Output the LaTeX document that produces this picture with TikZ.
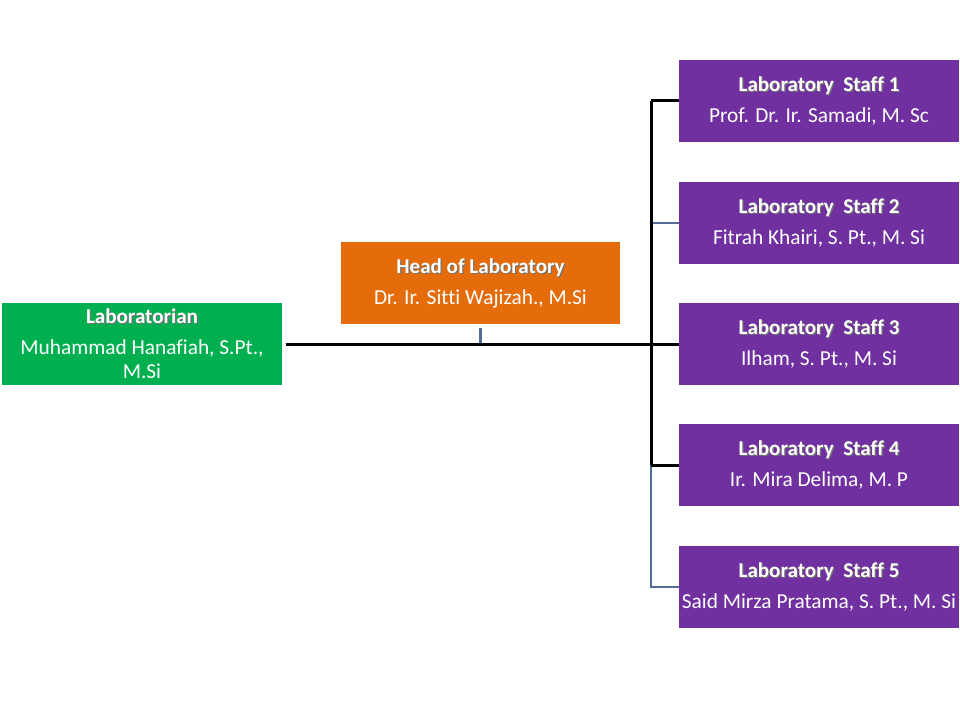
\documentclass[tikz,border=0pt]{standalone}
\usepackage{fontspec}
\setmainfont{Carlito}[Ligatures=NoCommon]
\definecolor{cgreen}{HTML}{00B050}
\definecolor{corange}{HTML}{E46C0A}
\definecolor{cpurple}{HTML}{7030A0}
\definecolor{cblue}{RGB}{79,109,150}
\newcommand\shtext[1]{\makebox[0pt][l]{\raisebox{-0.9pt}{\hspace{0.9pt}\textcolor{black!55}{#1}}}#1}
\newcommand\boxtext[2]{{\bfseries\fontsize{15.8}{18}\selectfont\shtext{#1}}\\[5.3pt]#2}
\begin{document}
\begin{tikzpicture}[x=0.75pt,y=-0.75pt,
  orgbox/.style={rectangle, draw=none, minimum width=210pt, minimum height=61.5pt,
    inner sep=0pt, text=white, align=center, font=\fontsize{16}{18}\selectfont},
  blk/.style={draw=black, line width=2.25pt},
  bluel/.style={draw=cblue, line width=2.1pt}]
\useasboundingbox (0,0) rectangle (960,720);
\node[orgbox, fill=cgreen] (lab) at (142,344) {\boxtext{Laboratorian}{Muhammad Hanafiah, S.Pt.,\\M.Si}};
\node[orgbox, fill=corange, minimum width=209pt] (head) at (480.5,283) {\boxtext{Head of Laboratory}{Dr. Ir. Sitti Wajizah., M.Si}};
\node[orgbox, fill=cpurple] (s1) at (819,101) {\boxtext{Laboratory\ \ Staff 1}{Prof. Dr. Ir. Samadi, M. Sc}};
\node[orgbox, fill=cpurple] (s2) at (819,223) {\boxtext{Laboratory\ \ Staff 2}{Fitrah Khairi, S. Pt., M. Si}};
\node[orgbox, fill=cpurple] (s3) at (819,344) {\boxtext{Laboratory\ \ Staff 3}{Ilham, S. Pt., M. Si}};
\node[orgbox, fill=cpurple] (s4) at (819,465) {\boxtext{Laboratory\ \ Staff 4}{Ir. Mira Delima, M. P}};
\node[orgbox, fill=cpurple] (s5) at (819,587) {\boxtext{Laboratory\ \ Staff 5}{Said Mirza Pratama, S. Pt., M. Si}};
\coordinate (tr) at (651,0);
% blue-gray connectors
\draw[bluel] ([yshift=-3pt]head.south) -- (head.south |- s3.west);
\draw[bluel] (tr |- s2.west) -- (s2.west);
\draw[bluel] (tr |- s4.west) -- (tr |- s5.west) -- (s5.west);
% black connectors
\draw[blk] ([xshift=2.5pt]lab.east) -- (s3.west);
\draw[blk] (tr |- s1.west) -- (tr |- s4.west);
\draw[blk] (tr |- s1.west) -- (s1.west);
\draw[blk] (tr |- s4.west) -- (s4.west);
\end{tikzpicture}
\end{document}
